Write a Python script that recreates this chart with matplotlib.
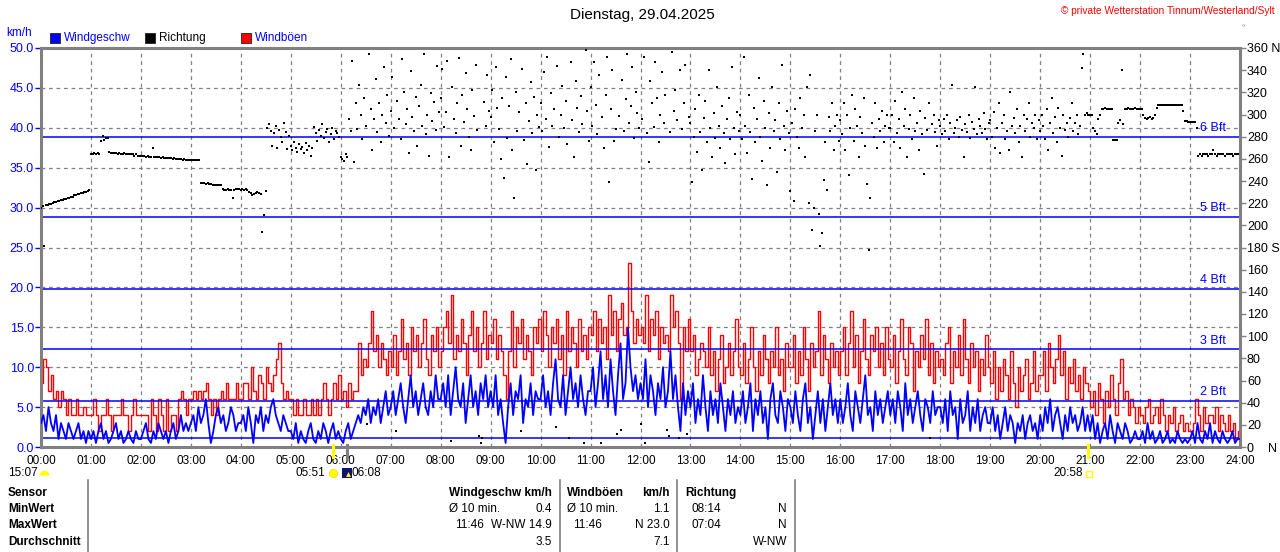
import numpy as np
import matplotlib
matplotlib.use('Agg')
import matplotlib.pyplot as plt
from matplotlib.lines import Line2D
from matplotlib.patches import Rectangle
from matplotlib.transforms import blended_transform_factory

plt.rcParams['font.family'] = ['Liberation Sans', 'DejaVu Sans']

# ---------------- data (3-minute steps for speed/gusts, 2-minute steps for direction) -------------
speed_kmh = [
    3,4,2,5,3,2,4,1,3,2,1,3,2,1,2,3,1,2,0.5,2,
    1,2,0.5,2,3,1,2,0.5,1,2,3,1,2,0.5,1,2,1,0.5,2,1,
    1,2,3,1,0.5,2,1,3,2,1,2,0.5,2,3,1,2,4,2,3,2,
    3,4,2,5,3,4,6,3,0.5,2,4,5,3,4,2,3,5,4,2,3,
    3,4,2,5,3,0.5,4,3,5,2,4,3,5,6,4,3,2,4,3,2,
    2,1,3,0.5,2,1,0.5,2,3,1,0.5,2,1,3,2,0.5,2,3,1,2,
    1,0.5,2,3,1,2,3,4,3,5,4,6,3,5,4,6,3,5,7,4,
    5,7,4,6,8,5,3,6,9,5,7,4,6,8,5,4,7,5,9,6,
    6,8,5,9,4,7,10,6,5,8,3,6,9,5,7,4,8,6,9,5,
    7,5,9,4,6,3,0.5,5,8,4,7,6,9,3,6,5,8,4,7,6,
    6,9,5,7,4,8,11,6,5,9,4,7,10,6,8,5,9,6,4,7,
    7,10,5,8,12,6,9,5,11,7,4,9,13,6,8,14.9,10,7,9,6,
    8,6,11,5,9,7,4,8,6,10,5,7,12,6,9,5,2,8,4,7,
    5,8,3,6,4,9,5,2,7,4,6,3,8,5,2,6,4,7,3,5,
    4,7,3,5,8,2,6,4,7,3,5,1,6,8,4,3,7,5,2,6,
    5,3,7,4,2,6,8,3,5,1,4,7,3,6,2,5,8,4,6,3,
    6,3,5,8,4,2,7,5,3,6,9,4,5,2,7,4,6,3,5,7,
    4,6,3,7,5,2,8,4,6,3,5,7,4,2,6,5,3,7,4,5,
    5,3,6,2,7,4,5,1,6,3,4,7,2,5,3,6,2,4,5,3,
    3,5,2,4,1,3,5,2,4,3,0.5,3,2,4,1,3,4,2,3,1,
    4,2,5,3,6,2,4,5,3,1,4,2,5,3,4,2,3,5,2,4,
    2,4,1,3,0.5,2,3,1,4,2,0.5,3,2,1,3,2,0.5,1,2,1,
    1,2,0.5,3,1,2,0.5,1,2,0.5,1,2,0.5,1,0.5,2,1,0.5,1,0.5,
    1,2,0.5,3,1,0.5,2,1,3,0.5,2,1,0.5,2,1,0.5,1,2,0.5,1,
]

gust_kmh = [
    8,11,10,7,9,6,7,5,7,6,4,6,4,4,6,4,4,5,4,4,
    4,6,4,2,4,4,6,4,2,4,4,4,6,4,4,2,4,6,4,4,
    4,4,4,2,6,4,2,6,4,2,6,2,4,4,2,6,7,6,4,6,
    6,7,6,7,6,7,8,6,4,6,4,6,7,6,8,6,6,6,8,6,
    6,8,8,6,10,7,6,9,8,6,10,8,7,9,11,13,8,6,7,6,
    6,4,6,4,4,6,4,4,6,4,6,4,6,8,6,4,6,8,6,9,
    6,7,5,8,6,7,7,13,9,11,10,13,17,12,14,10,13,11,9,12,
    10,14,9,12,16,11,13,9,15,12,14,10,13,16,11,9,14,12,15,10,
    12,15,17,13,19,11,14,12,16,13,9,14,17,12,15,10,13,17,11,14,
    13,16,11,14,12,9,6,12,17,10,15,13,16,11,14,12,9,15,13,16,
    12,17,14,10,15,13,16,11,14,9,17,12,15,13,10,16,12,14,11,15,
    14,17,12,16,13,15,11,19,14,17,12,16,18,14,15,23,17,13,16,14,
    15,13,19,12,16,14,17,11,15,13,14,12,19,15,17,13,6,15,12,16,
    12,14,9,11,13,12,10,15,9,12,7,11,14,8,10,13,9,12,16,10,
    9,13,8,11,15,10,7,12,9,14,11,8,12,10,15,9,11,7,13,10,
    10,14,8,12,9,15,11,7,13,10,12,17,9,14,11,8,13,10,12,9,
    12,15,9,13,17,10,14,8,12,16,11,9,14,12,15,10,13,9,15,11,
    10,14,8,12,16,11,9,15,13,7,12,10,14,11,16,9,13,8,12,10,
    11,9,13,15,8,12,10,14,9,16,11,8,13,10,12,7,11,9,14,10,
    8,12,6,10,7,11,9,6,12,8,5,10,7,9,11,6,8,12,7,9,
    9,12,7,13,10,8,11,14,9,12,6,10,8,11,7,9,6,10,8,7,
    5,7,4,8,6,3,7,5,9,6,4,8,11,6,7,4,6,5,3,5,
    4,3,5,6,3,4,5,3,6,4,2,4,3,5,2,3,4,2,3,2,
    2,3,6,4,2,5,3,4,4,3,5,2,4,3,2,4,2,3,1,2,
]

direction_deg = [
    216,217,181,218,218,219,219,220,221,221,222,222,223,223,224,224,225,225,226,226,227,227,228,228,229,229,230,230,231,232,
    264,264,265,264,265,264,276,281,277,279,279,266,265,265,265,265,264,265,264,264,265,264,264,264,264,264,263,264,263,263,
    263,263,263,262,263,262,262,270,262,262,262,262,261,262,261,261,261,261,261,260,261,260,260,260,260,259,260,259,259,259,
    259,259,259,259,259,259,238,238,238,237,238,237,237,236,236,236,236,236,236,233,232,232,233,232,232,225,232,233,233,233,
    232,233,232,233,232,230,229,227,228,229,230,229,228,194,209,231,288,291,285,272,283,290,270,286,280,275,292,284,269,281,
    272,268,275,270,266,273,269,271,265,274,268,272,263,270,289,283,276,286,281,291,279,284,287,275,282,288,278,285,283,280,
    262,260,258,264,262,296,285,348,257,310,287,327,300,278,315,290,21,355,305,268,296,332,284,310,275,300,343,292,318,281,
    303,334,288,14,312,296,278,350,320,291,305,265,339,298,285,316,272,308,327,290,355,282,300,263,319,294,311,286,344,302,
    315,341,289,302,348,262,5,325,296,283,310,351,272,318,293,337,305,280,268,322,299,345,286,10,4,8,311,290,336,303,
    298,322,275,343,306,287,260,315,243,334,279,308,350,268,225,320,285,302,14,341,277,310,255,294,329,283,316,250,300,289,
    310,285,338,296,352,271,319,290,305,18,344,280,300,326,288,312,273,8,347,295,262,330,306,284,317,291,4,358,303,276,
    325,290,347,309,282,336,4,298,270,318,352,239,305,340,276,287,12,299,15,331,285,314,355,292,308,343,279,320,301,288,
    21,296,352,4,283,257,330,310,289,347,315,275,300,338,292,318,15,10,284,356,303,322,295,8,340,287,310,345,12,298,
    292,239,280,305,266,318,284,250,297,312,275,340,288,262,301,279,325,290,270,308,283,256,296,315,278,343,288,264,302,285,
    300,278,352,290,265,318,284,242,306,275,296,333,280,258,312,288,236,301,270,325,285,295,248,310,278,345,290,268,303,283,
    231,292,222,305,280,270,315,288,300,262,325,220,336,196,216,285,300,210,181,193,241,275,232,298,285,310,268,290,300,276,
    295,282,310,268,300,245,288,318,276,305,290,262,298,283,315,272,237,178,225,292,280,310,270,296,285,303,275,290,300,288,
    288,300,275,312,283,296,270,320,290,305,262,287,300,278,315,285,292,268,303,282,246,297,286,310,8,291,300,284,272,295,
    290,282,296,285,300,278,292,327,283,288,295,280,298,286,262,291,284,300,279,293,287,325,282,296,290,283,301,287,278,292,
    295,280,302,270,288,310,265,292,300,278,285,268,320,290,297,283,305,275,290,262,300,285,296,310,280,292,288,300,278,295,
    285,300,290,278,305,268,292,315,283,298,275,306,288,263,300,286,292,280,297,310,285,292,300,282,290,342,355,300,301,300,
    300,300,288,285,282,296,300,305,305,306,305,305,305,305,277,277,277,292,295,340,291,305,305,306,305,305,305,306,305,305,
    305,305,300,297,296,297,298,296,297,300,306,309,309,309,309,309,309,309,309,309,309,309,309,309,309,309,303,294,294,293,
    293,293,293,293,288,263,264,263,264,264,264,263,264,264,268,264,263,264,264,264,264,263,264,264,264,264,263,264,264,264,
]

hour_labels = [f"{h:02d}:00" for h in range(25)]
kmh_ticks = [0, 5, 10, 15, 20, 25, 30, 35, 40, 45, 50]
dir_ticks = list(range(0, 361, 20))
dir_tick_labels = [("0    N" if d == 0 else "180 S" if d == 180 else "360 N" if d == 360 else str(d)) for d in dir_ticks]
bft_kmh = [1.08, 5.76, 12.24, 19.8, 28.8, 38.9]
bft_labels = ["", "2 Bft", "3 Bft", "4 Bft", "5 Bft", "6 Bft"]

legend_names = ["Windgeschw", "Richtung", "Windböen"]
legend_colors = ["#0000ff", "#000000", "#ff0000"]
legend_text_colors = ["#0000ff", "#000000", "#0000ff"]

sun_events = [("05:51", 5 + 51/60, "#ffff00"), ("06:08", 6 + 8/60, "#808080"), ("20:58", 20 + 58/60, "#ffff00")]

table_header = ["Sensor", "MinWert", "MaxWert", "Durchschnitt"]

# ---------------- figure ----------------
W, H = 1280, 552
fig = plt.figure(figsize=(W/100, H/100), dpi=100)
fig.patch.set_facecolor('white')

def T(x, y, s, **kw):
    kw.setdefault('va', 'center')
    kw.setdefault('fontsize', 8.5)
    return fig.text(x/W, 1 - y/H, s, **kw)

ax = fig.add_axes([41/W, 1 - 447/H, 1199/W, 399/H])
ax.set_xlim(0, 24)
ax.set_ylim(0, 50)
ax.set_facecolor('white')

GRAY = '#808080'
ax.set_xticks(range(25))
ax.set_xticklabels(hour_labels)
ax.set_yticks(kmh_ticks)
ax.set_yticklabels([f"{v:.1f}" for v in kmh_ticks])
ax.grid(True, color=GRAY, ls=(0, (3, 3)), lw=0.9)
ax.set_axisbelow(True)
ax.tick_params(axis='y', colors='#0000ff', length=4, width=1, labelsize=9, pad=1)
ax.tick_params(axis='x', length=0, labelsize=8.5, pad=6, labelcolor='black')
for s in ax.spines.values():
    s.set_color(GRAY)
    s.set_linewidth(2.2)

# series
ts = np.arange(len(speed_kmh)) * 24.0 / len(speed_kmh)
tg = np.arange(len(gust_kmh)) * 24.0 / len(gust_kmh)
ax.step(np.append(tg, 24), np.append(gust_kmh, gust_kmh[-1]), where='post', color='#ff0000', lw=1.0, zorder=2)
for b in bft_kmh:
    ax.axhline(b, color='#0000ff', lw=1.1, zorder=2.5)
ax.plot(np.append(ts, 24), np.append(speed_kmh, speed_kmh[-1]), color='#0000ff', lw=1.3, zorder=3)
for b, lab in zip(bft_kmh, bft_labels):
    if lab:
        ax.text(23.72, b + 0.35, lab, color='#0000ff', ha='right', va='bottom', fontsize=9, zorder=4)

ax2 = ax.twinx()
ax2.set_ylim(0, 360)
ax2.set_yticks(dir_ticks)
ax2.set_yticklabels(dir_tick_labels, ha='left')
ax2.tick_params(axis='y', length=4, width=1, colors=GRAY, labelcolor='black', labelsize=9, pad=1)
for s in ax2.spines.values():
    s.set_visible(False)
td = np.arange(len(direction_deg)) * 24.0 / len(direction_deg)
ax2.plot(td, direction_deg, ls='none', marker='s', markersize=1.9, color='black', mec='black', mew=0)

# sunrise / sunset ticks
trans = blended_transform_factory(ax.transData, ax.transAxes)
for lab, t, c in sun_events:
    ax.plot([t, t], [0.004, -0.026], color=c, lw=2.2, transform=trans, clip_on=False, zorder=6)

# ---------------- texts ----------------
T(642, 15, "Dienstag, 29.04.2025", ha='center', fontsize=11)
T(1275, 11, "© private Wetterstation Tinnum/Westerland/Sylt", ha='right', color='#ff0000', fontsize=7.3)
T(1243, 29, "°", ha='center', color=GRAY, fontsize=6)
T(6, 33, "km/h", ha='left', color='#0000ff', fontsize=8.5)

leg_x = [50, 145, 241]
for x0, name, c, tc in zip(leg_x, legend_names, legend_colors, legend_text_colors):
    fig.add_artist(Rectangle((x0/W, 1 - 43/H), 10/W, 10/H, transform=fig.transFigure,
                             facecolor=c, edgecolor='#202020', lw=0.6))
    T(x0 + 14, 38, name, ha='left', color=tc, fontsize=8.5)

# sun row
T(8, 473, "15:07", ha='left', fontsize=8.5)
fig.add_artist(Line2D([44/W], [1 - 475/H], marker='o', fillstyle='top', markersize=7, color='#ffff00',
                      mew=0, transform=fig.transFigure))
T(325, 473, "05:51", ha='right', fontsize=8.5)
fig.add_artist(Line2D([333/W], [1 - 473/H], marker='o', markersize=6, color='#ffff00', mec='#f0e000',
                      mew=0.5, transform=fig.transFigure))
fig.add_artist(Line2D([347/W], [1 - 473/H], marker='s', markersize=7, color='#10106e', mew=0,
                      transform=fig.transFigure))
fig.add_artist(Line2D([348/W], [1 - 474/H], marker='^', markersize=3.5, color='#ffff00', mew=0,
                      transform=fig.transFigure))
T(352, 473, "06:08", ha='left', fontsize=8.5)
T(1083, 473, "20:58", ha='right', fontsize=8.5)
fig.add_artist(Line2D([1089/W], [1 - 474/H], marker='s', markersize=4, fillstyle='none', color='#ffff00',
                      mew=1, transform=fig.transFigure))

# table
for xv in [88, 560, 677, 795]:
    fig.add_artist(Line2D([xv/W, xv/W], [1 - 480/H, 0], color=GRAY, lw=1.2, transform=fig.transFigure))
rows_y = [493, 509, 525, 542]
for yv, lab in zip(rows_y, table_header):
    T(8, yv, lab, ha='left', fontweight='bold')

T(552, 493, "Windgeschw km/h", ha='right', fontweight='bold')
T(567, 493, "Windböen", ha='left', fontweight='bold')
T(670, 493, "km/h", ha='right', fontweight='bold')
T(685, 493, "Richtung", ha='left', fontweight='bold')

T(449, 509, "Ø 10 min.", ha='left')
T(552, 509, "0.4", ha='right')
T(567, 509, "Ø 10 min.", ha='left')
T(670, 509, "1.1", ha='right')
T(691, 509, "08:14", ha='left')
T(787, 509, "N", ha='right')

T(455, 525, "11:46", ha='left')
T(552, 525, "W-NW 14.9", ha='right')
T(573, 525, "11:46", ha='left')
T(670, 525, "N 23.0", ha='right')
T(691, 525, "07:04", ha='left')
T(787, 525, "N", ha='right')

T(552, 542, "3.5", ha='right')
T(670, 542, "7.1", ha='right')
T(787, 542, "W-NW", ha='right')

fig.savefig("out.png", dpi=100)
